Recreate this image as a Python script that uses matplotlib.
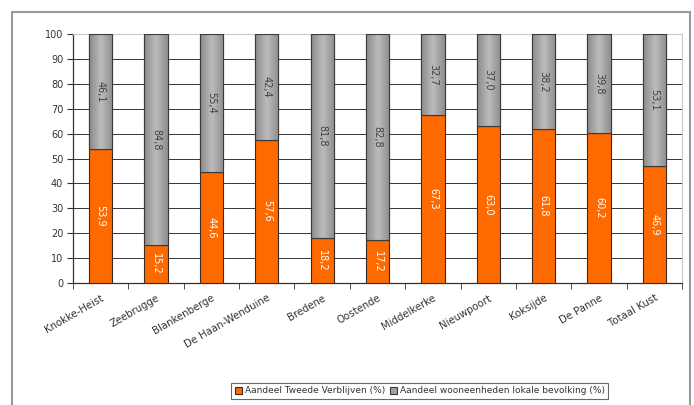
import numpy as np
import matplotlib.pyplot as plt
from matplotlib.patches import Rectangle
from matplotlib.colors import LinearSegmentedColormap

gemeenten = ["Knokke-Heist", "Zeebrugge", "Blankenberge", "De Haan-Wenduine",
             "Bredene", "Oostende", "Middelkerke", "Nieuwpoort", "Koksijde",
             "De Panne", "Totaal Kust"]
tweede_verblijven = [53.9, 15.2, 44.6, 57.6, 18.2, 17.2, 67.3, 63.0, 61.8, 60.2, 46.9]
lokale_bevolking = [46.1, 84.8, 55.4, 42.4, 81.8, 82.8, 32.7, 37.0, 38.2, 39.8, 53.1]

oranje = "#ff6a00"
grijs = "#a3a3a3"

fig = plt.figure(figsize=(6.94, 4.05), dpi=100)
ax = fig.add_axes([0.105, 0.301, 0.878, 0.615])

x = np.arange(len(gemeenten))
w = 0.42
b1 = ax.bar(x, tweede_verblijven, w, color=oranje, edgecolor="#3a2a20", linewidth=0.8, zorder=3)
b2 = ax.bar(x, lokale_bevolking, w, bottom=tweede_verblijven, color=grijs,
            edgecolor="#3a3a3a", linewidth=0.8, zorder=3)

# grijze balken met lichte horizontale gradient
cmap = LinearSegmentedColormap.from_list("g", ["#8a8a8a", "#bcbcbc", "#8e8e8e"])
grad = np.linspace(0, 1, 64).reshape(1, -1)
for bar in b2:
    x0, y0 = bar.get_x(), bar.get_y()
    im = ax.imshow(grad, cmap=cmap, aspect="auto", zorder=3.5,
                   extent=[x0, x0 + bar.get_width(), y0, y0 + bar.get_height()])
    im.set_clip_path(bar)
    r = Rectangle((x0, y0), bar.get_width(), bar.get_height(), fill=False,
                  edgecolor="#3a3a3a", linewidth=0.8, zorder=4)
    ax.add_patch(r)

for i in range(len(gemeenten)):
    t = tweede_verblijven[i]
    l = lokale_bevolking[i]
    ax.text(x[i], t / 2, f"{t:.1f}".replace(".", ","), rotation=270, ha="center",
            va="center", color="white", fontsize=7, zorder=5)
    ax.text(x[i], t + l / 2, f"{l:.1f}".replace(".", ","), rotation=270, ha="center",
            va="center", color="#404040", fontsize=7, zorder=5)

ax.set_xlim(-0.5, len(gemeenten) - 0.5)
ax.set_ylim(0, 100)
ax.set_yticks(range(0, 101, 10))
ax.yaxis.grid(True, color="#333333", linewidth=0.7, zorder=1)
ax.set_axisbelow(True)

ax.set_xticks(x)
ax.set_xticklabels(gemeenten, rotation=30, ha="right", rotation_mode="anchor",
                   fontsize=7.3, color="#333333")
ax.set_xticks(np.arange(-0.5, len(gemeenten), 1), minor=True)
ax.tick_params(axis="x", which="major", length=0, pad=7)
ax.tick_params(axis="x", which="minor", length=4, color="#333333")
ax.tick_params(axis="y", length=4, labelsize=7, colors="#333333", pad=3)

for s in ["left", "bottom"]:
    ax.spines[s].set_color("#333333")
    ax.spines[s].set_linewidth(0.9)
for s in ["top", "right"]:
    ax.spines[s].set_color("#c8c8c8")
    ax.spines[s].set_linewidth(0.8)

leg = fig.legend([b1, b2], ["Aandeel Tweede Verblijven (%)",
                            "Aandeel wooneenheden lokale bevolking (%)"],
                 loc="center", bbox_to_anchor=(0.605, 0.035), ncol=2, fontsize=6.5,
                 frameon=True, fancybox=False, handlelength=0.8, handleheight=0.8,
                 handletextpad=0.3, columnspacing=0.5, borderpad=0.4)
leg.get_frame().set_edgecolor("#444444")
leg.get_frame().set_linewidth(0.8)
for txt in leg.get_texts():
    txt.set_color("#333333")

# kader rond de grafiek
fig.patches.append(Rectangle((12 / 694, -0.05), (690 - 12) / 694, 1.05 - 12 / 405,
                             transform=fig.transFigure, fill=False,
                             edgecolor="#9a9a9a", linewidth=1.5))

fig.savefig("out.png", dpi=100)
